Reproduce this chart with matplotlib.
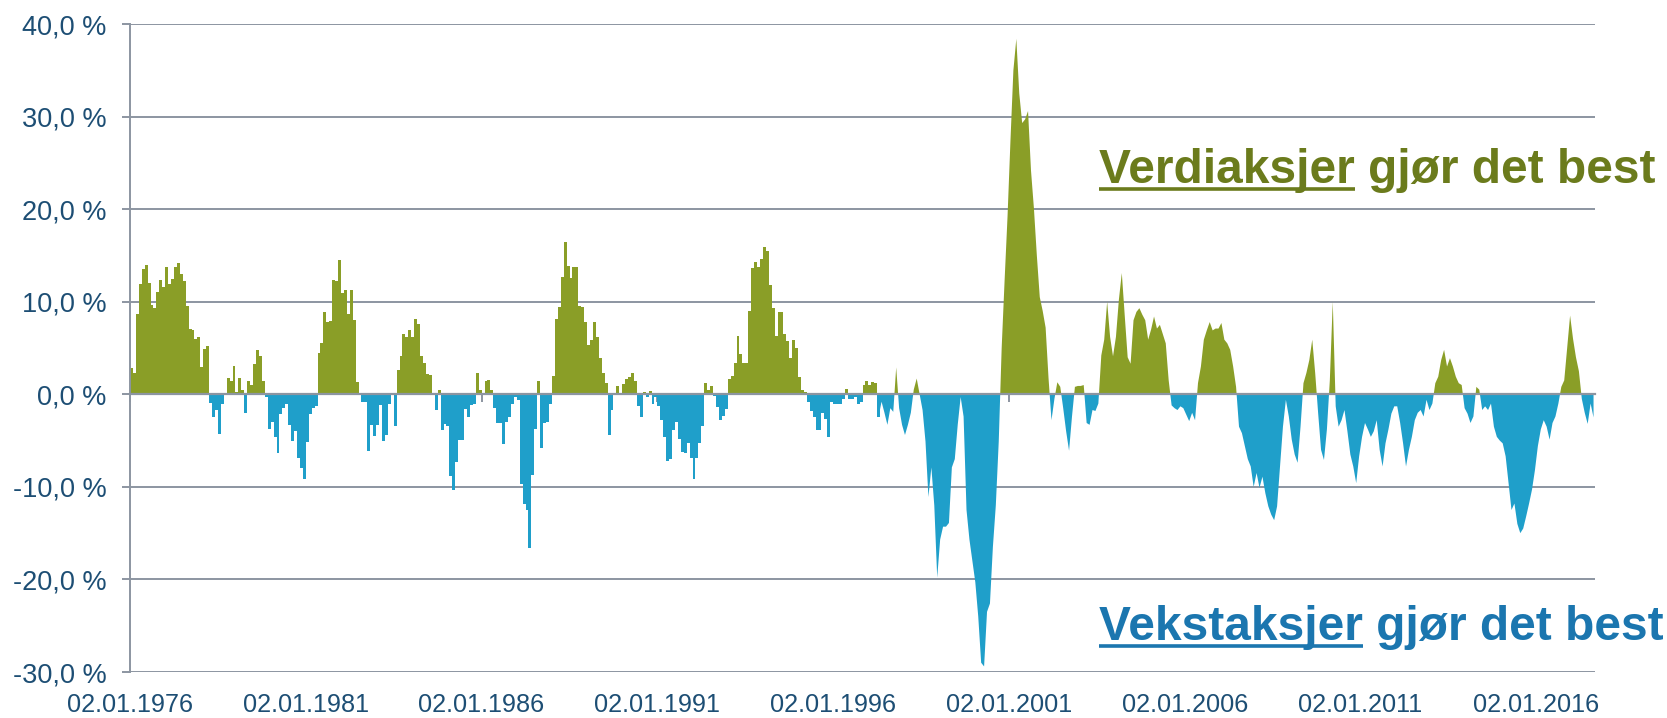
import numpy as np
import matplotlib
matplotlib.use("Agg")
import matplotlib.pyplot as plt
from matplotlib.lines import Line2D

# ---------------- data (relative return value vs growth, %, monthly) ----------------
rel_1976_1982 = [2.8, 2.3, 8.7, 11.9, 13.5, 14.0, 12.0, 9.6, 9.3, 11.0,
                 12.3, 11.6, 13.8, 11.9, 12.5, 13.8, 14.2, 13.0, 12.2, 9.5,
                 7.1, 6.9, 6.0, 6.2, 3.0, 4.9, 5.2, -0.9, -2.4, -1.7,
                 -4.3, -1.0, 0.0, 1.8, 1.4, 3.1, 0.2, 1.8, 0.5, -2.0,
                 1.4, 1.0, 3.3, 4.8, 4.1, 1.4, -0.3, -3.7, -3.0, -4.6,
                 -6.3, -2.1, -1.5, -1.0, -3.3, -5.1, -4.0, -6.9, -8.0, -9.1,
                 -5.2, -2.1, -1.5, -1.3, 4.5, 5.5, 8.9, 7.8, 7.9, 12.3,
                 12.2, 14.5, 10.9, 11.3, 8.7, 11.3, 8.0, 1.3, 0.0, -0.8]
rel_1982_1989 = [-0.8, -6.1, -3.3, -4.5, -3.3, -1.2, -5.1, -4.4, -1.0, -0.1,
                 -3.4, 2.6, 4.1, 6.5, 6.2, 6.9, 6.2, 8.1, 7.6, 4.1,
                 3.4, 2.2, 2.1, 0.0, -1.7, 0.5, -3.9, -3.2, -3.4, -8.8,
                 -10.3, -7.3, -4.9, -4.9, -1.6, -2.4, -1.2, -1.0, 2.3, 0.5,
                 0.0, 1.4, 1.5, 0.5, -1.5, -3.1, -3.1, -5.4, -3.0, -2.4,
                 -1.1, -0.3, -0.6, -9.7, -11.9, -12.5, -16.6, -8.7, -3.7, 1.4,
                 -5.8, -3.1, -3.0, -1.0, 2.0, 8.1, 9.4, 12.7, 16.4, 13.9,
                 12.6, 13.8, 13.8, 9.5, 9.4, 7.8, 5.3, 5.9, 7.8, 6.2,
                 3.9]
rel_1989_1996 = [2.3, 1.2, -4.4, -1.7, 0.1, 0.9, 0.0, 1.1, 1.6, 1.9,
                 2.3, 1.4, -1.3, -2.4, 0.2, -0.3, 0.4, -1.0, -0.3, -1.3,
                 -2.8, -4.6, -7.2, -7.0, -3.9, -3.0, -4.8, -6.2, -6.3, -5.3,
                 -6.9, -9.1, -6.9, -5.3, -3.4, 1.2, 0.5, 0.9, -0.2, -1.4,
                 -2.8, -2.3, -1.6, 1.7, 2.0, 3.4, 6.3, 4.4, 3.4, 3.4,
                 9.0, 13.6, 14.3, 13.8, 14.6, 15.9, 15.5, 11.8, 9.3, 6.3,
                 8.9, 8.9, 6.5, 5.8, 3.9, 5.9, 5.0, 1.9, 0.5, 0.2,
                 -0.8, -1.8, -2.5, -3.9, -3.9, -2.0, -2.7, -4.6, -0.8, -1.0,
                 -1.1]
rel_1996_2003 = [-1.0, -0.5, 0.6, -0.5, -0.5, -0.3, -1.0, -0.8, 1.0, 1.4,
                 1.0, 1.3, 1.2, -2.4, -0.8, -2.0, -3.3, -1.5, -1.9, 2.9,
                 -1.5, -3.3, -4.4, -3.3, -2.0, 0.5, 1.7, 0.0, -1.7, -5.1,
                 -11.1, -7.9, -12.0, -19.8, -15.7, -14.3, -14.3, -13.9, -7.9, -7.0,
                 -3.3, -0.3, -2.4, -12.5, -15.7, -18.0, -20.3, -24.0, -29.0, -29.4,
                 -23.5, -22.6, -16.5, -12.0, -5.1, 5.0, 12.3, 19.2, 27.4, 35.0,
                 38.4, 32.5, 29.3, 29.7, 30.6, 24.2, 20.1, 15.0, 10.5, 9.0,
                 7.2, 1.7, -2.8, -0.5, 1.3, 0.8, -1.5, -4.0, -6.1, -2.4,
                 0.8, 0.9, 0.9]
rel_2003_2009 = [1.0, -3.1, -3.3, -1.7, -1.8, -1.0, 4.2, 5.9, 10.0, 6.2,
                 4.1, 6.2, 10.2, 13.1, 8.5, 4.0, 3.3, 8.0, 8.9, 9.3,
                 8.6, 8.0, 5.9, 7.0, 8.4, 7.1, 7.5, 6.5, 5.5, 1.5,
                 -1.2, -1.5, -1.7, -1.3, -1.5, -2.2, -2.9, -2.0, -2.8, 1.2,
                 3.0, 5.9, 6.9, 7.8, 6.9, 7.1, 7.1, 7.7, 5.9, 5.5,
                 4.8, 3.0, 0.8, -3.5, -4.2, -5.6, -7.0, -7.8, -10.0, -8.5,
                 -10.1, -8.9, -10.7, -12.1, -13.0, -13.6, -12.1, -7.8, -3.5, -0.6,
                 -2.4, -4.9, -6.5, -7.4, -3.5, 1.2, 2.3, 3.7, 5.9, 2.3,
                 -2.0, -6.0]
rel_2009_2017 = [-7.1, -3.8, 1.5, 10.0, -1.3, -3.5, -2.8, -1.7, -4.0, -6.5,
                 -7.8, -9.6, -6.7, -4.6, -3.1, -3.8, -4.6, -4.0, -2.8, -6.0,
                 -7.8, -5.3, -3.8, -2.1, -1.3, -1.3, -3.1, -5.3, -7.8, -6.0,
                 -4.6, -2.8, -2.0, -1.7, -2.4, -0.6, -1.7, -1.0, 1.2, 1.9,
                 3.7, 4.8, 3.0, 3.9, 3.0, 1.9, 1.2, 1.0, -1.5, -2.1,
                 -3.1, -2.4, 0.8, 0.5, -1.7, -1.3, -1.7, -1.0, -3.5, -4.6,
                 -5.0, -5.3, -6.7, -9.6, -12.5, -11.8, -14.0, -15.0, -14.5, -13.2,
                 -11.8, -10.3, -8.2, -5.6, -3.8, -2.8, -3.5, -4.9, -3.1, -2.4,
                 -1.0, 0.8, 1.5, 5.0, 8.5, 6.0, 4.0, 2.5, -0.5, -2.0,
                 -3.2, -1.0, -2.5]

tick_labels = ["02.01.1976", "02.01.1981", "02.01.1986", "02.01.1991", "02.01.1996",
               "02.01.2001", "02.01.2006", "02.01.2011", "02.01.2016"]
y_ticks = [-30, -20, -10, 0, 10, 20, 30, 40]
label_top = "Verdiaksjer"
label_top_rest = " gjør det best"
label_bottom = "Vekstaksjer"
label_bottom_rest = " gjør det best"

rel = np.array(rel_1976_1982 + rel_1982_1989 + rel_1989_1996 +
               rel_1996_2003 + rel_2003_2009 + rel_2009_2017)
months = np.arange(len(rel))
tick_pos = months[::60][:len(tick_labels)]

# ---------------- styling ----------------
W, H = 1667, 718
GREEN = "#8A9E27"
BLUE = "#1F9FCA"
GRID = "#8C95A1"
LABEL = "#1D4E74"
TXT_GREEN = "#6B7B1C"
TXT_BLUE = "#1B76AF"
FONT = "Liberation Sans"
plt.rcParams["font.family"] = [FONT, "DejaVu Sans"]

fig = plt.figure(figsize=(W / 100, H / 100), dpi=100)
ax = fig.add_axes([130 / W, (H - 672) / H, (1595 - 130) / W, (672 - 24) / H])

# early period: monthly bars (steps)
n_bar = 256
edges = np.arange(n_bar + 1)
v = rel[:n_bar]
ax.stairs(np.where(v > 0, v, 0), edges, baseline=0, fill=True, color=GREEN, lw=0, zorder=1)
ax.stairs(np.where(v < 0, v, 0), edges, baseline=0, fill=True, color=BLUE, lw=0, zorder=1)
# later period: dense area
xl = months[n_bar - 1:] + 0.5
vl = rel[n_bar - 1:]
ax.fill_between(xl, vl, 0, where=vl >= 0, interpolate=True, color=GREEN, lw=0, zorder=1)
ax.fill_between(xl, vl, 0, where=vl <= 0, interpolate=True, color=BLUE, lw=0, zorder=1)

ax.set_xlim(0, len(rel))
ax.set_ylim(-30, 40)
ax.set_yticks(y_ticks)
ax.set_yticklabels([f"{t:.1f} %".replace(".", ",") for t in y_ticks])
ax.yaxis.grid(True, color=GRID, lw=1.4)
ax.set_axisbelow(True)
for s in ["top", "right"]:
    ax.spines[s].set_visible(False)
ax.spines["left"].set_color(GRID)
ax.spines["left"].set_linewidth(1.4)
ax.spines["bottom"].set_position(("data", 0))
ax.spines["bottom"].set_color(GRID)
ax.spines["bottom"].set_linewidth(1.6)
ax.spines["bottom"].set_zorder(3)
ax.set_xticks(tick_pos)
ax.tick_params(axis="x", direction="out", length=6, width=1.4, color=GRID, labelbottom=False)
ax.tick_params(axis="y", direction="out", length=6, width=1.4, color=GRID,
               labelsize=19.5, labelcolor=LABEL, pad=11)

sec = ax.secondary_xaxis("bottom")
sec.set_xticks(tick_pos, tick_labels)
sec.tick_params(length=0, labelsize=18.2, labelcolor=LABEL, pad=15)
sec.spines["bottom"].set_visible(False)

# ---------------- annotations ----------------
tkw = dict(fontsize=34.5, fontweight="bold", family=FONT, va="baseline", ha="left")
x_txt = 1099 / W
base_top = 183
base_bot = 640
fig.text(x_txt, 1 - base_top / H, label_top + label_top_rest, color=TXT_GREEN, **tkw)
fig.text(x_txt, 1 - base_bot / H, label_bottom + label_bottom_rest, color=TXT_BLUE, **tkw)

fig.canvas.draw()
r = fig.canvas.get_renderer()
for word, base, col in [(label_top, base_top, TXT_GREEN), (label_bottom, base_bot, TXT_BLUE)]:
    tmp = fig.text(x_txt, 1 - base / H, word, **tkw)
    bb = tmp.get_window_extent(r)
    tmp.remove()
    yl = (H - base - 5.5) / H
    fig.add_artist(Line2D([bb.x0 / W, bb.x1 / W], [yl, yl], color=col, lw=2.6,
                          solid_capstyle="butt", transform=fig.transFigure))

fig.savefig("out.png", dpi=100)
